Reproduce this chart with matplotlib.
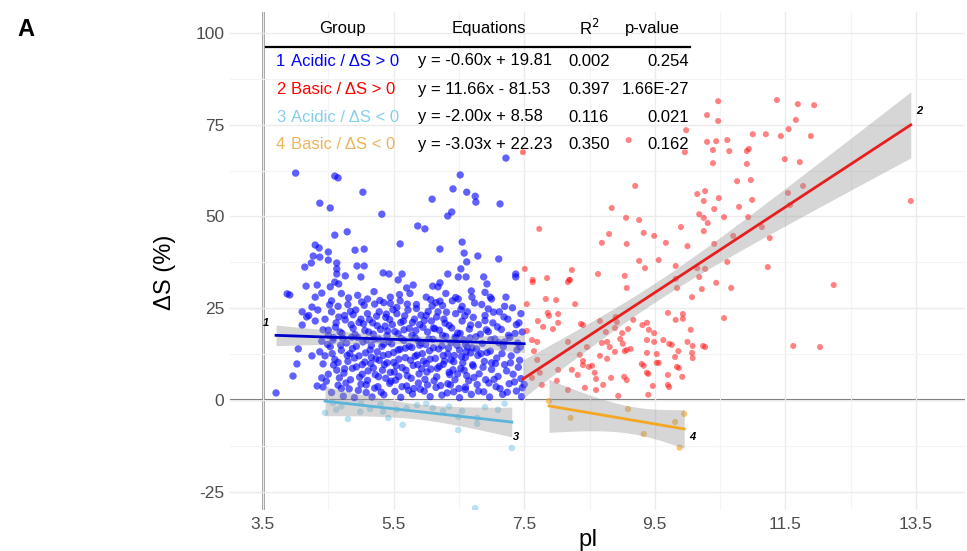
import numpy as np
import matplotlib
matplotlib.use("Agg")
import matplotlib.pyplot as plt
from matplotlib.lines import Line2D

plt.rcParams['font.family'] = ['Liberation Sans', 'DejaVu Sans']
plt.rcParams['axes.unicode_minus'] = False

# ---- data (pI, delta S %) ----
acidic_pos = [
    # sparse upper part
    (4.0, 61.8), (4.6, 61.0), (4.65, 60.5), (5.03, 56.6), (4.37, 53.6), (4.53, 52.3), (5.32, 50.6),
    (6.52, 61.3), (6.41, 57.5), (6.62, 56.6), (6.75, 55.5), (6.76, 53.9), (6.09, 54.7), (6.39, 51.2),
    (6.33, 50.1), (7.13, 53.4), (7.22, 65.9), (5.87, 47.4), (5.98, 46.6), (4.79, 45.8), (4.6, 44.9),
    (5.6, 42.5), (6.21, 41.1), (6.55, 43.0), (6.58, 40.0), (6.79, 39.2), (4.3, 42.2), (4.36, 41.4),
    (4.5, 40.3), (4.91, 40.8), (5.05, 41.1), (4.27, 39.2), (4.37, 38.9), (4.24, 37.3), (4.14, 36.2),
    (4.5, 38.1), (4.63, 37.3), (4.63, 35.7), (4.63, 34.3), (4.94, 36.5), (5.05, 36.5), (7.11, 38.4),
    (6.62, 37.6), (6.53, 35.7), (7.37, 34.3), (7.37, 33.5), (4.76, 33.8), (5.0, 33.5), (5.34, 34.6),
    (5.43, 34.3), (5.63, 34.3), (6.33, 34.3), (6.49, 33.5), (6.61, 33.5), (6.88, 33.5), (6.93, 31.6),
    (7.22, 28.0), (3.87, 28.9), (3.91, 28.6), (4.16, 31.0), (4.33, 31.3), (4.53, 30.8), (4.6, 32.1),
    (4.66, 31.6), (4.4, 29.1), (4.3, 28.0), (5.57, 32.7), (5.7, 30.5), (5.8, 31.3), (6.1, 31.0),
    (6.21, 31.9), (6.18, 30.8), (6.69, 29.7), (6.98, 28.0), (6.49, 27.5),
    # left edge
    (4.1, 24.0), (4.17, 22.6), (4.25, 25.3), (4.34, 24.5), (4.1, 20.4), (4.04, 13.9), (4.25, 12.0),
    (4.02, 9.8), (3.96, 6.5), (3.7, 1.9), (4.37, 13.1), (4.4, 6.0), (4.33, 3.8), (4.42, 19.1),
    (4.5, 17.7), (4.57, 16.3), (7.42, 21.0), (7.44, 14.4), (7.47, 3.3),
    # dense band 25-30
    (4.55, 27), (4.7, 29), (4.8, 26), (4.95, 28.5), (5.1, 27.5), (5.2, 29.5), (5.35, 26.5), (5.45, 28),
    (5.6, 27), (5.75, 29), (5.85, 26), (6.0, 28), (6.15, 26.5), (6.3, 29), (6.4, 27), (6.55, 25.5),
    (6.7, 28), (6.85, 26), (7.0, 27.5), (7.2, 25.5), (4.65, 25.5), (5.05, 25.8), (5.55, 25.2),
    (6.25, 25.7), (6.9, 29.3),
    # 20-25
    (4.45, 22), (4.55, 24), (4.62, 21), (4.75, 23), (4.85, 20.5), (4.92, 24.5), (5.0, 22), (5.1, 23.5),
    (5.18, 21), (5.28, 24), (5.38, 22.5), (5.48, 20.5), (5.55, 23.5), (5.65, 21.5), (5.72, 24.5),
    (5.82, 22), (5.9, 20.5), (6.0, 23), (6.08, 21.5), (6.18, 24), (6.27, 22), (6.35, 20.3), (6.45, 23.5),
    (6.55, 21.5), (6.63, 24), (6.72, 22.5), (6.8, 20.5), (6.9, 23), (7.02, 21), (7.12, 24), (7.25, 22),
    (7.38, 20.5), (7.45, 23.5), (4.3, 21.5), (4.2, 23), (5.25, 20.2), (6.95, 24.8),
    # 15-20
    (4.4, 16), (4.5, 19), (4.58, 17), (4.68, 18.5), (4.78, 15.5), (4.88, 19.5), (4.95, 17), (5.03, 15.8),
    (5.12, 18.5), (5.2, 16.5), (5.3, 19.2), (5.4, 17.5), (5.47, 15.3), (5.57, 18), (5.66, 16.2),
    (5.74, 19.5), (5.83, 17), (5.92, 15.5), (6.02, 18.5), (6.1, 16.5), (6.2, 19), (6.3, 17.3),
    (6.38, 15.6), (6.48, 18.2), (6.57, 16.4), (6.66, 19.3), (6.76, 17.2), (6.86, 15.4), (6.95, 18.6),
    (7.05, 16.6), (7.15, 19.2), (7.28, 17), (7.4, 15.5), (7.47, 18.5), (4.72, 16.8), (5.35, 15.2),
    (5.95, 19.8), (6.6, 15.1), (7.2, 15.8),
    # 10-15
    (4.45, 12), (4.53, 14.5), (4.6, 11), (4.7, 13.5), (4.8, 10.5), (4.87, 14), (4.97, 12), (5.06, 10.3),
    (5.14, 13.6), (5.23, 11.2), (5.32, 14.6), (5.42, 12.4), (5.5, 10.2), (5.6, 13.8), (5.68, 11.5),
    (5.78, 14.3), (5.86, 12.2), (5.96, 10.6), (6.05, 13.4), (6.14, 11.3), (6.24, 14.7), (6.33, 12.5),
    (6.42, 10.4), (6.51, 13.6), (6.6, 11.6), (6.7, 14.2), (6.79, 12.1), (6.89, 10.5), (6.98, 13.3),
    (7.08, 11.4), (7.18, 14.5), (7.3, 12), (7.43, 10.8), (4.65, 10.2), (5.28, 10.8), (5.9, 14.9),
    (6.47, 14.9), (7.0, 10.1),
    # 5-10
    (4.5, 7), (4.58, 9.5), (4.67, 6), (4.75, 8.5), (4.84, 5.5), (4.93, 9), (5.02, 7), (5.1, 5.3),
    (5.19, 8.7), (5.27, 6.3), (5.36, 9.6), (5.45, 7.5), (5.53, 5.4), (5.63, 8.8), (5.71, 6.6), (5.8, 9.4),
    (5.89, 7.1), (5.98, 5.6), (6.07, 8.4), (6.16, 6.3), (6.26, 9.7), (6.35, 7.5), (6.44, 5.5), (6.53, 8.6),
    (6.62, 6.6), (6.72, 9.2), (6.81, 7.1), (6.91, 5.5), (7.0, 8.3), (7.1, 6.4), (7.2, 9.6), (7.33, 7),
    (7.45, 5.8), (4.42, 9.8), (5.15, 9.9), (6.0, 9.9),
    # 0-5
    (4.55, 2), (4.65, 4), (4.73, 1), (4.82, 3), (4.9, 0.6), (5.0, 4.3), (5.08, 2), (5.17, 0.8),
    (5.26, 3.6), (5.35, 1.4), (5.44, 4.5), (5.52, 2.3), (5.61, 0.7), (5.7, 3.8), (5.79, 1.6), (5.88, 4.6),
    (5.97, 2.4), (6.06, 0.9), (6.15, 3.4), (6.24, 1.3), (6.33, 4.4), (6.42, 2.2), (6.51, 0.6), (6.6, 3.5),
    (6.69, 1.5), (6.78, 4.2), (6.88, 2.2), (6.97, 0.8), (7.07, 3.6), (7.17, 1.5), (7.27, 4.4), (7.38, 2.4),
    (7.46, 0.9), (4.42, 3.5), (7.5, 4.2),
    # extra in the core
    (4.76, 21.8), (4.91, 17.8), (5.04, 20.7), (5.16, 14.8), (5.24, 22.8), (5.33, 8.1), (5.41, 18.8),
    (5.5, 12.9), (5.58, 6.4), (5.67, 22.9), (5.76, 10.8), (5.84, 18.9), (5.93, 8.5), (6.03, 24.1),
    (6.11, 14.2), (6.2, 9.1), (6.29, 20.9), (6.37, 4.1), (6.46, 16.9), (6.54, 11.8), (4.83, 12.6),
    (4.98, 6.2), (5.09, 16.3), (5.21, 3.2), (5.39, 23.4), (5.62, 16.7), (5.81, 3.1), (6.13, 19.4),
    (6.41, 8.2), (6.68, 12.8), (4.7, 3.1), (4.88, 23.2), (5.45, 26.3), (6.07, 27.3), (6.6, 2.8),
    (4.52, 25.9), (4.61, 19.8), (4.69, 14.9), (4.74, 7.3), (4.81, 27.8), (4.86, 17.1), (4.9, 11.4),
    (4.96, 2.6), (5.01, 26.7), (5.07, 12.8), (5.11, 7.9), (5.13, 21.9), (5.19, 17.9), (5.22, 6.9),
    (5.25, 13.1), (5.29, 27.1), (5.31, 2.1), (5.37, 20.1), (5.4, 10.1), (5.43, 15.9), (5.46, 5.1),
    (5.49, 24.6), (5.52, 18.6), (5.54, 9.3), (5.57, 13.6), (5.59, 28.7), (5.63, 3.6), (5.66, 19.1),
    (5.69, 8.1), (5.71, 26.1), (5.74, 14.6), (5.77, 5.9), (5.79, 21.1), (5.83, 11.9), (5.85, 24.9),
    (5.88, 16.1), (5.91, 2.9), (5.94, 12.6), (5.97, 21.6), (6.01, 7.6), (6.04, 16.6), (6.06, 11.1),
    (6.09, 25.6), (6.12, 5.2), (6.16, 22.6), (6.19, 13.9), (6.22, 3.9), (6.25, 17.6), (6.28, 10.6),
    (6.31, 23.9), (6.34, 14.1), (6.36, 6.9), (6.39, 19.6), (6.43, 12.1), (6.45, 27.9), (6.48, 7.1),
    (6.52, 18.1), (6.56, 10.1), (6.59, 22.9), (6.63, 14.4), (6.65, 5.2), (6.68, 20.4), (6.71, 9.6),
    (6.74, 26.4), (6.77, 13.9), (6.8, 2.4), (6.83, 17.9), (6.87, 8.9), (6.9, 21.6), (6.93, 12.9),
    (6.96, 4.6), (6.99, 16.4), (7.03, 23.9), (7.06, 9.9), (7.09, 19.9), (7.13, 3.1), (7.16, 12.6),
    (7.19, 22.6), (7.23, 7.9), (7.26, 17.6), (7.29, 10.1), (7.32, 25.1), (7.35, 4.9), (7.39, 13.6),
    (7.41, 8.9), (4.47, 5.1), (4.49, 15.1), (4.56, 12.6), (4.63, 8.1), (4.66, 22.6), (4.71, 18.1),
    (4.77, 4.6), (4.79, 12.1), (4.84, 24.1), (4.87, 8.6), (4.93, 14.6), (4.97, 21.1), (5.02, 9.6),
    (5.06, 18.9), (5.08, 4.1), (5.16, 11.6), (5.21, 26.1), (5.27, 16.6), (5.34, 12.1), (5.38, 5.9),
    (5.44, 21.9), (5.51, 7.6), (5.58, 11.1), (5.61, 21.1), (5.68, 14.1), (5.73, 2.6), (5.78, 17.6),
    (5.87, 9.6), (5.92, 23.1), (5.99, 15.1), (6.02, 4.1), (6.11, 19.6), (6.17, 8.6), (6.21, 26.9),
    (6.26, 12.1), (6.32, 1.9), (6.38, 10.9), (6.44, 17.1), (6.5, 3.1), (6.53, 24.6), (6.58, 8.1),
    (6.61, 13.1), (6.67, 16.9), (6.73, 6.1), (6.84, 12.6), (6.92, 19.1), (7.04, 5.6), (7.11, 15.6),
    (7.24, 2.1), (7.36, 18.1),
]

basic_pos = [
    (10.47, 81.4), (10.3, 77.6), (10.47, 76.0), (11.37, 81.7), (11.69, 80.6), (11.94, 80.3), (11.66, 76.3),
    (11.55, 73.8), (11.43, 71.9), (11.2, 72.4), (11.0, 72.4), (11.89, 71.9), (9.98, 73.5), (9.1, 70.8),
    (10.3, 70.3), (10.44, 70.5), (10.61, 70.8), (10.39, 68.1), (10.64, 67.8), (10.91, 67.8), (10.94, 68.4),
    (9.96, 67.5), (7.48, 67.5), (10.39, 64.5), (10.91, 64.3), (11.49, 65.6), (11.72, 64.8), (9.2, 58.3),
    (10.97, 59.9), (10.76, 59.6), (10.15, 56.1), (10.27, 56.9), (10.25, 54.2), (10.48, 55.0), (10.99, 54.5),
    (10.79, 52.6), (10.41, 52.0), (8.84, 52.3), (11.54, 56.4), (11.57, 53.1), (11.77, 58.3), (13.42, 54.2),
    (10.18, 50.6), (10.25, 49.6), (10.31, 48.2), (10.56, 49.8), (10.93, 49.8), (11.14, 47.1), (11.26, 44.1),
    (9.06, 49.6), (9.26, 49.0), (9.9, 47.1), (7.73, 46.6), (8.8, 45.2), (9.33, 45.5), (9.49, 44.7),
    (10.25, 46.0), (10.7, 44.7), (8.69, 42.8), (9.07, 42.5), (9.67, 42.8), (10.0, 41.9), (10.41, 42.5),
    (9.26, 37.9), (9.35, 35.9), (9.56, 38.1), (9.82, 36.5), (10.61, 37.6), (11.23, 36.2), (7.51, 35.7),
    (7.85, 33.2), (8.23, 35.4), (8.63, 34.3), (9.04, 33.8), (10.15, 35.9), (10.27, 35.7), (8.19, 32.7),
    (7.63, 32.7), (12.24, 31.3), (12.03, 14.4),
    (7.63, 32.1), (8.17, 32.1), (8.2, 32.7), (9.07, 30.5), (10.07, 28.0), (10.18, 33.5), (10.22, 30.2),
    (10.44, 31.9), (10.67, 30.5), (9.82, 33.0), (9.84, 30.5), (7.54, 26.1), (7.83, 27.5), (7.99, 27.2),
    (8.28, 26.1), (7.86, 23.7), (7.88, 22.9), (8.02, 23.4), (7.71, 21.5), (7.79, 19.9), (7.94, 19.3),
    (8.02, 21.0), (7.54, 18.8), (7.62, 16.3), (7.7, 15.8), (7.65, 13.3), (7.7, 10.9), (7.74, 7.4),
    (7.77, 4.1), (7.62, 6.0), (8.37, 20.7), (8.4, 20.4), (8.17, 15.8), (8.35, 12.3), (8.4, 10.6),
    (8.4, 9.5), (8.49, 9.0), (8.54, 9.3), (8.58, 7.4), (8.6, 5.7), (8.43, 3.3), (8.17, 2.7), (8.0, 5.2),
    (8.02, 8.2), (8.23, 8.2), (8.32, 6.8), (8.66, 12.0), (8.77, 11.2), (8.81, 14.4), (8.89, 13.1),
    (9.04, 13.3), (8.66, 21.5), (8.75, 18.5), (8.69, 15.5), (8.77, 15.8), (8.89, 19.6), (9.0, 18.2),
    (8.97, 16.6), (9.01, 15.3), (8.92, 21.2), (8.9, 22.6), (9.09, 19.3), (9.17, 21.8), (9.31, 20.4),
    (9.38, 21.0), (9.41, 19.1), (9.07, 13.6), (9.13, 13.9), (9.38, 12.8), (9.53, 12.5), (9.3, 9.8),
    (9.33, 9.3), (9.38, 7.4), (9.4, 7.1), (9.47, 3.8), (9.4, 1.4), (8.94, 1.1), (9.07, 5.4), (9.03, 6.3),
    (8.83, 6.0), (8.71, 4.1), (8.6, 2.7), (9.49, 15.8), (9.63, 16.3), (9.72, 15.3), (9.76, 15.0),
    (9.86, 13.3), (9.81, 11.7), (9.84, 9.0), (9.87, 8.7), (9.92, 6.3), (9.7, 6.8), (9.7, 4.1), (9.72, 3.5),
    (9.53, 10.1), (9.56, 10.1), (9.49, 18.2), (9.7, 23.7), (9.82, 21.8), (9.93, 23.4), (9.93, 22.1),
    (10.0, 15.8), (10.08, 14.7), (10.07, 12.8), (10.08, 11.4), (10.05, 19.1), (10.24, 14.7), (10.27, 14.4),
    (10.56, 22.3), (11.62, 14.7), (9.38, 16.3), (8.46, 14.4),
]

acidic_neg = [
    (4.45, -3.5), (4.57, -0.9), (4.8, -5.2), (4.99, -3.2), (5.14, -2.5), (5.34, -3.2), (5.42, -4.9),
    (5.64, -6.8), (5.7, -2.2), (5.86, -1.4), (6.1, -2.2), (6.26, -3.0), (6.49, -4.6), (6.49, -8.2),
    (6.55, -3.0), (6.78, -4.9), (6.78, -6.5), (7.1, -2.7), (7.31, -13.1), (6.75, -29.5), (4.7, -1.8),
    (5.0, -0.8), (5.3, -1.2), (5.55, -2.6), (6.0, -1.0), (6.35, -1.8), (6.9, -2.0), (7.2, -1.0), (4.62, -2.7),
]

basic_neg = [(7.88, -0.3), (8.21, -4.9), (9.09, -2.5), (9.33, -9.3), (9.81, -6.0), (9.95, -3.8), (9.88, -13.0)]

groups = ["Acidic / \u0394S > 0", "Basic / \u0394S > 0", "Acidic / \u0394S < 0", "Basic / \u0394S < 0"]
slopes = [-0.60, 11.66, -2.00, -3.03]
intercepts = [19.81, -81.53, 8.58, 22.23]
r2 = ["0.002", "0.397", "0.116", "0.350"]
pvals = ["0.254", "1.66E-27", "0.021", "0.162"]

xticks = [3.5, 5.5, 7.5, 9.5, 11.5, 13.5]
yticks = [-25, 0, 25, 50, 75, 100]

point_cols = ["#0000FF", "#FF1A1A", "#87CEEB", "#F5A623"]
point_alpha = [0.62, 0.55, 0.6, 0.65]
point_size = [28, 19, 22, 20]
line_cols = ["#0000CC", "#E81E1E", "#5BB5DA", "#F5A623"]
text_cols = ["#0000FF", "#FF0000", "#87CEEB", "#EDB45C"]


def t_crit(df):
    # two sided 95% t values, enough for this figure
    tab = {5: 2.571, 10: 2.228, 20: 2.086, 27: 2.052, 30: 2.042}
    if df >= 60:
        return 1.96
    k = min(tab, key=lambda d: abs(d - df))
    return tab[k]


def ci_band(x, y, a, b, xs):
    n = len(x)
    res = y - (a * x + b)
    s = np.sqrt(np.sum(res ** 2) / (n - 2))
    xm = x.mean()
    sxx = np.sum((x - xm) ** 2)
    se = s * np.sqrt(1.0 / n + (xs - xm) ** 2 / sxx)
    return t_crit(n - 2) * se


W, H = 967, 551
fig = plt.figure(figsize=(W / 100, H / 100), dpi=100)
ax = fig.add_axes([230 / W, 1 - 510 / H, 735 / W, 498 / H])

ax.set_xlim(2.995, 14.25)
ax.set_ylim(-30, 105.7)
ax.set_xticks(xticks)
ax.set_yticks(yticks)
ax.set_xticks([4.5, 6.5, 8.5, 10.5, 12.5], minor=True)
ax.set_yticks([-12.5, 12.5, 37.5, 62.5, 87.5], minor=True)
ax.grid(True, which='major', color='#EBEBEB', lw=1.0, zorder=0)
ax.grid(True, which='minor', color='#F4F4F4', lw=0.8, zorder=0)
ax.tick_params(which='both', length=0)
ax.tick_params(axis='both', labelsize=12.5, labelcolor='#4D4D4D')
ax.tick_params(axis='x', pad=5)
ax.tick_params(axis='y', pad=4)
for sp in ax.spines.values():
    sp.set_visible(False)

ax.axhline(0, color='#666666', lw=1.5, zorder=1)
ax.axvline(3.5, color='#777777', lw=1.8, zorder=1)

sets = [acidic_pos, basic_pos, acidic_neg, basic_neg]
label_off = [(-7, 9), (6, 10), (3, -11), (6, -6)]

for i, pts in enumerate(sets):
    arr = np.array(pts, dtype=float)
    ax.scatter(arr[:, 0], arr[:, 1], s=point_size[i], color=point_cols[i], alpha=point_alpha[i],
               edgecolors='none', zorder=2)

for i, pts in enumerate(sets):
    arr = np.array(pts, dtype=float)
    x, y = arr[:, 0], arr[:, 1]
    xs = np.linspace(x.min(), x.max(), 80)
    fit = slopes[i] * xs + intercepts[i]
    hw = ci_band(x, y, slopes[i], intercepts[i], xs)
    ax.fill_between(xs, fit - hw, fit + hw, color='#999999', alpha=0.4, lw=0, zorder=3)
    ax.plot(xs, fit, color=line_cols[i], lw=2, zorder=4)
    if i == 0:
        anchor = (xs[0], fit[0])
    else:
        anchor = (xs[-1], fit[-1])
    ax.annotate(str(i + 1), anchor, xytext=label_off[i], textcoords='offset points',
                fontsize=8, fontweight='bold', fontstyle='italic', ha='center', va='center', zorder=5)

# axis titles and panel letter
fig.text(165 / W, 1 - 272 / H, "\u0394S (%)", rotation=90, fontsize=17, ha='center', va='center')
fig.text(588 / W, 1 - 540 / H, "pI", fontsize=17, ha='center', va='center')
fig.text(26 / W, 1 - 29 / H, "A", fontsize=17, fontweight='bold', ha='center', va='center')

# table with the regression results
hy = 1 - 28 / H
fig.text(342 / W, hy, "Group", fontsize=12, ha='center', va='center')
fig.text(489 / W, hy, "Equations", fontsize=12, ha='center', va='center')
fig.text(589 / W, hy, "R$^2$", fontsize=12, ha='center', va='center')
fig.text(652 / W, hy, "p-value", fontsize=12, ha='center', va='center')
fig.add_artist(Line2D([266 / W, 690 / W], [1 - 47 / H, 1 - 47 / H], color='black', lw=1.6,
                      transform=fig.transFigure))

row_y = [61, 89, 117, 145]
for i in range(4):
    yy = 1 - row_y[i] / H
    sign = "+" if intercepts[i] >= 0 else "-"
    eq = "y = %.2fx %s %.2f" % (slopes[i], sign, abs(intercepts[i]))
    fig.text(276 / W, yy, str(i + 1), fontsize=12, color=text_cols[i], va='center')
    fig.text(291 / W, yy, groups[i], fontsize=12, color=text_cols[i], va='center')
    fig.text(418 / W, yy, eq, fontsize=12, va='center')
    fig.text(568 / W, yy, r2[i], fontsize=12, va='center')
    fig.text(689 / W, yy, pvals[i], fontsize=12, va='center', ha='right')

fig.savefig("out.png", dpi=100)
